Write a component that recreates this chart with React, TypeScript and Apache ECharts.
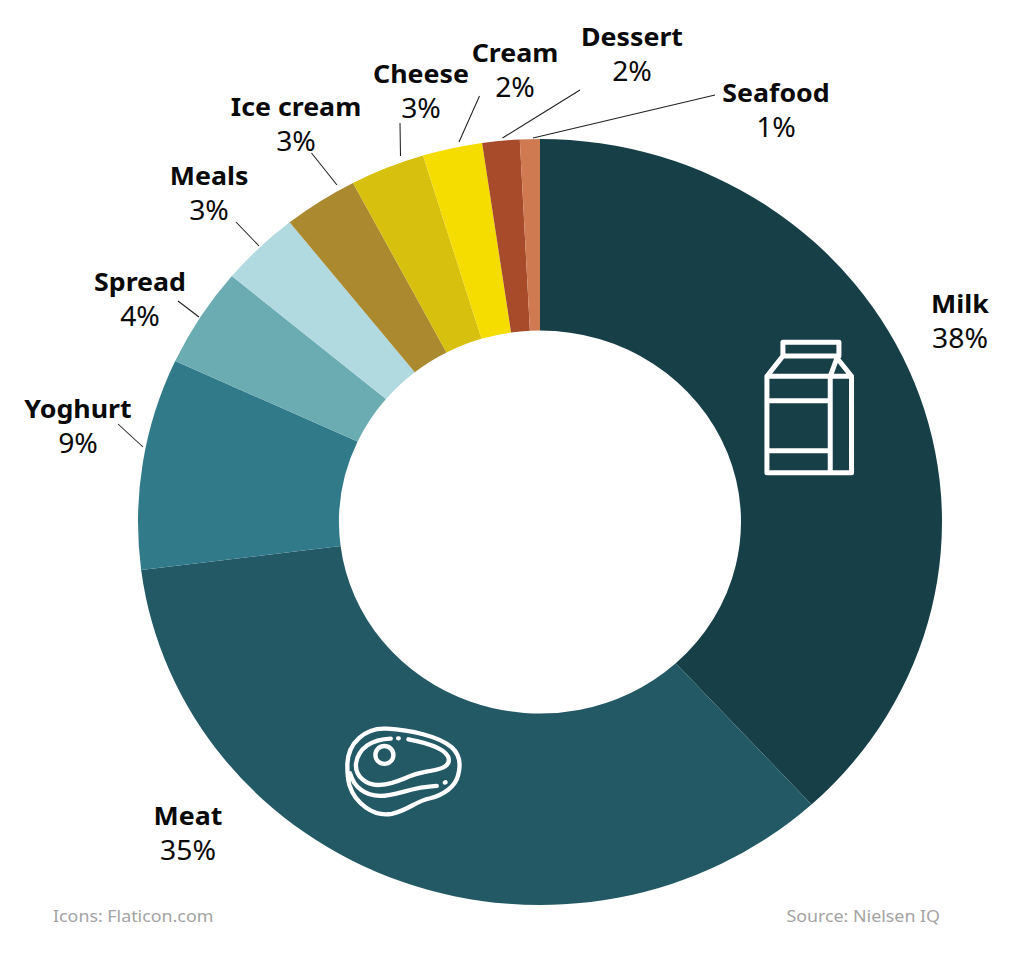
import React, { useEffect, useRef } from "react";
import * as echarts from "echarts";

const categories = ["Milk", "Meat", "Yoghurt", "Spread", "Meals", "Ice cream", "Cheese", "Cream", "Dessert", "Seafood"];
const values = [38.2, 34.8, 8.9, 4.2, 3.2, 3.0, 3.0, 2.4, 1.5, 0.8];
const percentLabels = ["38%", "35%", "9%", "4%", "3%", "3%", "3%", "2%", "2%", "1%"];
const colors = ["#173f47", "#235865", "#317a89", "#6bacb3", "#b1d9e0", "#ab8a2f", "#d8c00f", "#f5dd00", "#a84b2b", "#cf7a50"];
// label centres in picture pixels
const labelCentres: number[][] = [[960, 320], [188, 832], [78, 425], [140, 298], [209, 192], [296, 123], [421, 90], [515, 69], [632, 53], [776, 109]];
// leader lines in picture pixels: ring end, then label end (Milk and Meat have none)
const leaders: (number[][] | null)[] = [
  null,
  null,
  [[143, 447], [118, 424]],
  [[199, 317], [178, 301]],
  [[259, 246], [236, 222]],
  [[337, 185], [311.5, 153]],
  [[400.5, 156], [400, 123]],
  [[459, 142], [479.5, 96]],
  [[502.5, 138], [580, 90]],
  [[533, 138], [715, 95]],
];

// The reference is stretched horizontally: the ring is an ellipse, and so are its texts.
const STRETCH = 402 / 383;
const W = 1024;
const H = 965;
const FONT = '"Noto Sans", "Open Sans", sans-serif';

const MILK_ICON =
  "M782.7 356 V342.3 H838.7 V356 Z " +
  "M782.7 356 L766.7 376.3 V472.7 H851.3 V376.3 L836.7 358 L830 376.3 M766.7 376.3 H851.3 " +
  "M830 376.3 V472.7 M766.7 400.7 H830 M766.7 450.7 H830";

// drawn at 3x, placed with scale 1/3
const MEAT_ICON =
  "M52 170 C50 95 110 52 170 56 C240 60 325 78 365 112 C390 135 392 165 384 195 C376 230 340 255 300 265 C255 275 235 300 185 312 C130 322 75 280 58 225 C54 210 52 190 52 170 Z " +
  "M60 190 C72 232 105 258 150 258 C205 258 235 232 320 228 " +
  "M344 218 L346 217 " +
  "M182 86 C125 88 85 115 78 160 C74 200 110 228 150 225 C205 222 230 195 285 186 C330 178 358 172 356 148 C353 120 300 100 235 88 " +
  "M204 85 L206 85 " +
  "M136 135 A27 27 0 1 0 190 135 A27 27 0 1 0 136 135 Z";

const makeShape = (d: string) => (echarts.graphic as any).extendPath(d, {});
echarts.graphic.registerShape("milkShape", makeShape(MILK_ICON));
echarts.graphic.registerShape("meatShape", makeShape(MEAT_ICON));

export default function App() {
  const ref = useRef<HTMLDivElement>(null);

  useEffect(() => {
    const chart = echarts.init(ref.current!, null, { renderer: "svg" });
    const iconStyle = { fill: "none", stroke: "#ffffff", lineWidth: 5, lineJoin: "round", lineCap: "round" };
    const toChart = (pt: number[]) => [pt[0] / STRETCH, pt[1]];
    chart.setOption({
      animation: false,
      backgroundColor: "#ffffff",
      series: [
        {
          type: "pie",
          silent: true,
          center: [540 / STRETCH, 522],
          radius: [191.5, 383],
          startAngle: 90,
          clockwise: true,
          avoidLabelOverlap: false,
          data: categories.map((name, i) => ({
            name,
            value: values[i],
            itemStyle: { color: colors[i] },
            labelLine: { show: leaders[i] !== null },
          })),
          label: {
            show: true,
            position: "outside",
            formatter: (p: any) => `{n|${p.name}}\n{p|${percentLabels[p.dataIndex]}}`,
            rich: {
              n: { fontFamily: FONT, fontWeight: 700, fontSize: 25.5, lineHeight: 34, color: "#0a0a0a", align: "center" },
              p: { fontFamily: FONT, fontWeight: 400, fontSize: 27, lineHeight: 34, color: "#0a0a0a", align: "center" },
            },
          },
          labelLine: { show: true, length: 10, length2: 10, lineStyle: { color: "#222222", width: 1 } },
          labelLayout: (p: any) => {
            const leader = leaders[p.dataIndex];
            const layout: any = {
              x: labelCentres[p.dataIndex][0] / STRETCH,
              y: labelCentres[p.dataIndex][1],
              align: "center",
              verticalAlign: "middle",
            };
            if (leader) {
              const a = toChart(leader[0]);
              const b = toChart(leader[1]);
              layout.labelLinePoints = [a, [(a[0] + b[0]) / 2, (a[1] + b[1]) / 2], b];
            }
            return layout;
          },
        },
      ],
      graphic: [
        { type: "milkShape", x: 0, y: 0, scaleX: 1 / STRETCH, style: iconStyle, z: 10 },
        { type: "meatShape", x: 330 / STRETCH, y: 710, scaleX: 1 / (3 * STRETCH), scaleY: 1 / 3, style: { ...iconStyle, lineWidth: 13 }, z: 10 },
        {
          type: "text",
          x: 53 / STRETCH,
          y: 915,
          style: { text: "Icons: Flaticon.com", fontFamily: FONT, fontSize: 17, fill: "#a3a3a3", textAlign: "left", textVerticalAlign: "middle" },
        },
        {
          type: "text",
          x: 940 / STRETCH,
          y: 915,
          style: { text: "Source: Nielsen IQ", fontFamily: FONT, fontSize: 17, fill: "#a3a3a3", textAlign: "right", textVerticalAlign: "middle" },
        },
      ],
    });
    return () => chart.dispose();
  }, []);

  return (
    <div
      ref={ref}
      style={{
        position: "absolute",
        left: 0,
        top: 0,
        width: W / STRETCH,
        height: H,
        transform: `scaleX(${STRETCH})`,
        transformOrigin: "0 0",
      }}
    />
  );
}
